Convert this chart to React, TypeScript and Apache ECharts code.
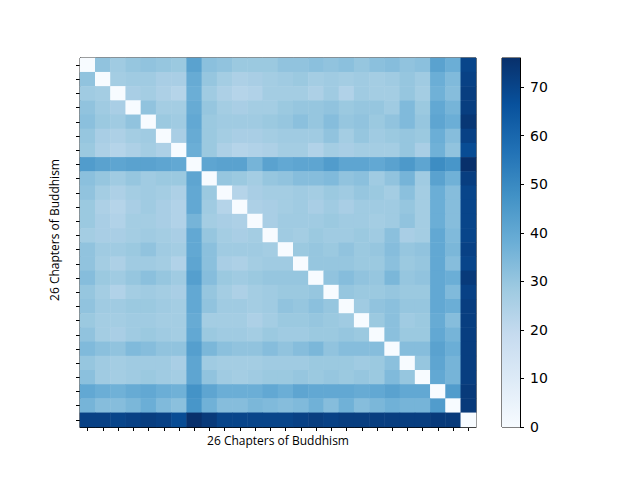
import React, { useEffect, useRef } from "react";
import * as echarts from "echarts";

const AXIS_TITLE = "26 Chapters of Buddhism";
const CATEGORIES: number[] = Array.from({ length: 26 }, (_, i) => i);
const COLOR_MIN = 0;
const COLOR_MAX = 76;
const COLORBAR_TICK_INTERVAL = 10;
const BLUES = ["#f7fbff", "#deebf7", "#c6dbef", "#9ecae1", "#6baed6", "#4292c6", "#2171b5", "#08519c", "#08306b"];

const row00 = [0, 31, 28, 30, 31, 30, 29, 42, 32, 31, 29, 29, 29, 31, 31, 32, 31, 32, 30, 32, 33, 31, 32, 42, 38, 70];
const row01 = [31, 0, 27, 28, 28, 26, 26, 39, 30, 27, 25, 26, 27, 28, 29, 27, 28, 27, 28, 27, 28, 30, 28, 38, 34, 71];
const row02 = [28, 27, 0, 26, 27, 25, 23, 38, 28, 25, 23, 24, 27, 27, 27, 25, 28, 24, 28, 27, 27, 30, 27, 37, 33, 72];
const row03 = [31, 28, 26, 0, 31, 27, 27, 39, 30, 27, 26, 27, 27, 29, 30, 30, 31, 29, 30, 30, 28, 34, 29, 40, 36, 72];
const row04 = [32, 29, 28, 31, 0, 29, 28, 40, 29, 28, 28, 28, 29, 30, 32, 30, 33, 30, 31, 29, 31, 34, 30, 41, 38, 74];
const row05 = [30, 26, 25, 27, 28, 0, 26, 39, 29, 27, 26, 26, 27, 28, 28, 28, 31, 27, 30, 28, 29, 30, 29, 38, 33, 71];
const row06 = [29, 25, 23, 25, 27, 25, 0, 38, 29, 25, 23, 24, 25, 27, 27, 24, 27, 26, 27, 27, 27, 30, 26, 37, 31, 68];
const row07 = [44, 42, 41, 42, 42, 41, 40, 0, 41, 42, 42, 36, 42, 40, 41, 41, 44, 41, 41, 40, 42, 45, 41, 49, 46, 76];
const row08 = [32, 30, 28, 30, 28, 29, 29, 41, 0, 30, 29, 27, 30, 31, 33, 33, 34, 31, 32, 28, 31, 36, 28, 42, 37, 72];
const row09 = [31, 27, 25, 27, 28, 27, 25, 40, 29, 0, 23, 26, 27, 27, 28, 27, 29, 28, 30, 29, 27, 32, 27, 38, 33, 70];
const row10 = [29, 25, 23, 26, 28, 26, 24, 40, 28, 23, 0, 25, 26, 27, 28, 26, 28, 26, 28, 28, 28, 30, 27, 38, 33, 70];
const row11 = [29, 26, 24, 27, 27, 26, 24, 36, 27, 26, 25, 0, 26, 28, 28, 28, 29, 28, 28, 27, 28, 31, 27, 38, 33, 70];
const row12 = [27, 26, 26, 27, 28, 27, 26, 40, 30, 27, 26, 27, 0, 28, 27, 29, 28, 28, 29, 28, 32, 26, 27, 40, 34, 70];
const row13 = [31, 28, 28, 29, 31, 28, 27, 40, 32, 28, 28, 28, 27, 0, 29, 30, 29, 31, 29, 30, 33, 30, 31, 40, 35, 71];
const row14 = [31, 27, 25, 28, 28, 27, 24, 41, 32, 26, 25, 27, 28, 28, 0, 30, 30, 30, 29, 29, 32, 29, 30, 40, 33, 70];
const row15 = [33, 29, 28, 30, 32, 30, 28, 43, 33, 29, 28, 29, 30, 30, 30, 0, 31, 33, 31, 30, 35, 30, 31, 40, 38, 73];
const row16 = [30, 27, 24, 27, 28, 27, 26, 40, 30, 27, 25, 27, 28, 29, 29, 30, 0, 30, 29, 29, 30, 29, 29, 40, 34, 71];
const row17 = [31, 28, 28, 29, 29, 28, 27, 40, 31, 28, 28, 27, 28, 31, 30, 32, 30, 0, 28, 31, 32, 30, 30, 40, 38, 72];
const row18 = [29, 27, 27, 28, 28, 27, 27, 39, 27, 27, 27, 25, 27, 29, 29, 30, 29, 28, 0, 29, 32, 28, 29, 39, 33, 72];
const row19 = [31, 27, 26, 28, 29, 28, 27, 40, 29, 28, 28, 27, 29, 28, 28, 29, 29, 30, 29, 0, 32, 29, 29, 40, 36, 72];
const row20 = [34, 32, 31, 34, 33, 31, 31, 43, 35, 32, 31, 31, 33, 31, 33, 35, 31, 33, 33, 33, 0, 33, 33, 42, 38, 72];
const row21 = [30, 28, 27, 28, 28, 28, 26, 41, 28, 27, 27, 27, 28, 28, 28, 29, 29, 29, 28, 29, 32, 0, 30, 41, 36, 72];
const row22 = [32, 28, 27, 28, 29, 28, 27, 41, 31, 28, 27, 28, 29, 29, 30, 29, 30, 29, 30, 29, 34, 30, 0, 40, 36, 72];
const row23 = [40, 38, 37, 39, 40, 38, 37, 47, 41, 38, 38, 38, 40, 38, 41, 40, 40, 40, 39, 40, 42, 40, 40, 0, 44, 73];
const row24 = [36, 33, 33, 35, 38, 34, 32, 46, 37, 33, 33, 35, 34, 33, 34, 37, 33, 37, 33, 35, 37, 36, 36, 44, 0, 73];
const row25 = [71, 71, 70, 71, 72, 71, 68, 76, 73, 70, 70, 70, 70, 70, 71, 72, 71, 72, 72, 72, 72, 72, 72, 73, 73, 0];

const ROWS = [
  row00, row01, row02, row03, row04, row05, row06, row07, row08, row09, row10, row11, row12,
  row13, row14, row15, row16, row17, row18, row19, row20, row21, row22, row23, row24, row25,
];

export default function App() {
  const ref = useRef<HTMLDivElement | null>(null);

  useEffect(() => {
    if (!ref.current) return;
    const chart = echarts.init(ref.current, undefined, { renderer: "svg" });

    const heatData: number[][] = [];
    ROWS.forEach((row, r) => row.forEach((v, c) => heatData.push([c, r, v])));

    const tickStyle = { color: "#000", width: 1 };

    chart.setOption({
      animation: false,
      backgroundColor: "#fff",
      grid: [
        { left: 80, top: 58, width: 396, height: 369, show: true, borderColor: "#000", borderWidth: 1, backgroundColor: "transparent" },
        { left: 502, top: 58, width: 18, height: 369, show: true, borderColor: "#000", borderWidth: 1, backgroundColor: "transparent" },
      ],
      xAxis: [
        {
          type: "category",
          gridIndex: 0,
          data: CATEGORIES,
          name: AXIS_TITLE,
          nameLocation: "middle",
          nameGap: 7,
          nameTextStyle: { fontFamily: "Open Sans", fontSize: 12, color: "#000", verticalAlign: "top" },
          axisLine: { show: true, lineStyle: tickStyle },
          axisTick: { show: true, alignWithLabel: true, interval: 0, length: 4, lineStyle: tickStyle },
          axisLabel: { show: false },
          splitLine: { show: false },
          splitArea: { show: false },
        },
        {
          type: "category",
          gridIndex: 1,
          data: ["colorbar"],
          show: false,
        },
      ],
      yAxis: [
        {
          type: "category",
          gridIndex: 0,
          data: CATEGORIES,
          inverse: true,
          axisLine: { show: true, lineStyle: tickStyle },
          axisTick: { show: true, alignWithLabel: true, interval: 0, length: 4, lineStyle: tickStyle },
          axisLabel: { show: false },
          splitLine: { show: false },
          splitArea: { show: false },
        },
        {
          type: "value",
          gridIndex: 1,
          min: COLOR_MIN,
          max: COLOR_MAX,
          interval: COLORBAR_TICK_INTERVAL,
          position: "right",
          axisLine: { show: true, lineStyle: tickStyle },
          axisTick: { show: true, inside: false, length: 4, lineStyle: tickStyle },
          axisLabel: { show: true, showMaxLabel: false, fontFamily: "DejaVu Sans", fontSize: 14, color: "#000", margin: 10 },
          splitLine: { show: false },
        },
      ],
      visualMap: {
        type: "continuous",
        show: false,
        min: COLOR_MIN,
        max: COLOR_MAX,
        seriesIndex: 0,
        inRange: { color: BLUES },
      },
      graphic: [
        {
          type: "text",
          x: 54,
          y: 230,
          rotation: Math.PI / 2,
          style: {
            text: AXIS_TITLE,
            fontFamily: "Open Sans",
            fontSize: 12,
            fill: "#000",
            align: "center",
            verticalAlign: "middle",
          },
        },
      ],
      series: [
        {
          type: "heatmap",
          xAxisIndex: 0,
          yAxisIndex: 0,
          data: heatData,
          emphasis: { disabled: true },
          itemStyle: { borderWidth: 0 },
        },
        {
          type: "bar",
          xAxisIndex: 1,
          yAxisIndex: 1,
          data: [COLOR_MAX],
          barWidth: "100%",
          silent: true,
          itemStyle: {
            color: new echarts.graphic.LinearGradient(
              0, 0, 0, 1,
              BLUES.slice().reverse().map((c, i, arr) => ({ offset: i / (arr.length - 1), color: c }))
            ),
          },
        },
      ],
    });

    return () => chart.dispose();
  }, []);

  return (
    <div
      ref={ref}
      style={{ position: "fixed", left: 0, top: 0, width: 640, height: 480, background: "#fff" }}
    />
  );
}
